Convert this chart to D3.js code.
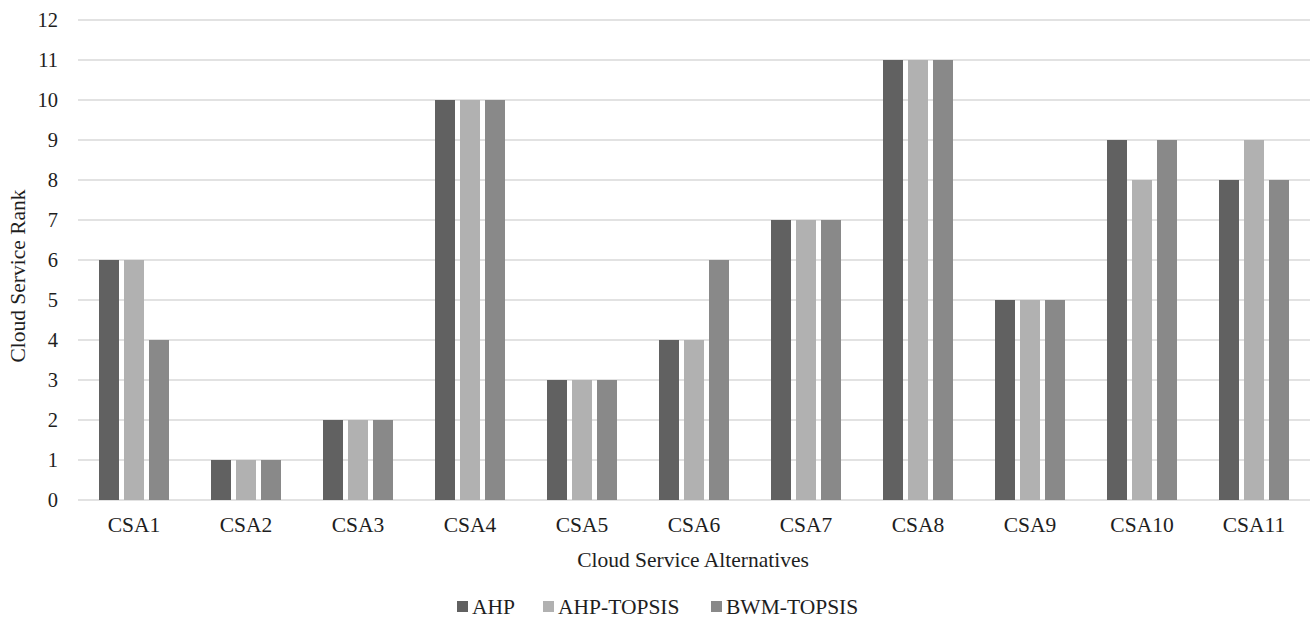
<!DOCTYPE html>
<html>
<head>
<meta charset="utf-8">
<script src="https://cdn.jsdelivr.net/npm/d3@7"></script>
<style>
  html, body { margin: 0; padding: 0; background: #fff; }
  svg { display: block; }
  svg text { font-family: "Liberation Serif", "Times New Roman", Times, serif !important; fill: #1e1e1e; }
</style>
</head>
<body>
<svg id="chart" width="1312" height="623"></svg>
<script>
// Ranks of the cloud service alternatives under each method
const categories = ["CSA1", "CSA2", "CSA3", "CSA4", "CSA5", "CSA6", "CSA7", "CSA8", "CSA9", "CSA10", "CSA11"];
const seriesNames = ["AHP", "AHP-TOPSIS", "BWM-TOPSIS"];
const ahp        = [6, 1, 2, 10, 3, 4, 7, 11, 5, 9, 8];
const ahpTopsis  = [6, 1, 2, 10, 3, 4, 7, 11, 5, 8, 9];
const bwmTopsis  = [4, 1, 2, 10, 3, 6, 7, 11, 5, 9, 8];
const yTicks = [0, 1, 2, 3, 4, 5, 6, 7, 8, 9, 10, 11, 12];
const colors = ["#616161", "#b1b1b1", "#898989"];

const seriesValues = [ahp, ahpTopsis, bwmTopsis];
const rows = categories.map((c, i) => ({
  cat: c,
  vals: seriesNames.map((s, j) => ({ key: s, value: seriesValues[j][i] }))
}));

const svg = d3.select("#chart");
const plot = { left: 78, right: 1310, top: 20, bottom: 500 };

const x = d3.scaleBand().domain(categories).range([plot.left, plot.right]).paddingInner(0).paddingOuter(0);
const bandPad = (x.bandwidth() - 70) / 2;
const xs = d3.scaleBand().domain(seriesNames)
  .range([bandPad, x.bandwidth() - bandPad]).paddingInner(0.2).paddingOuter(0);
const y = d3.scaleLinear().domain([0, 12]).range([plot.bottom, plot.top]);

// Horizontal gridlines
svg.append("g")
  .selectAll("line")
  .data(yTicks)
  .join("line")
  .attr("x1", plot.left).attr("x2", plot.right)
  .attr("y1", d => y(d)).attr("y2", d => y(d))
  .attr("stroke", "#d9d9d9").attr("stroke-width", 1.3);

// Y tick labels
const yAxis = svg.append("g")
  .attr("transform", `translate(${plot.left},0)`)
  .call(d3.axisLeft(y).tickValues(yTicks).tickSize(0).tickPadding(20).tickFormat(d3.format("d")));
yAxis.select(".domain").remove();
yAxis.selectAll("text").attr("font-size", 20.5);

// Bars
const groups = svg.append("g")
  .selectAll("g")
  .data(rows)
  .join("g")
  .attr("transform", d => `translate(${x(d.cat)},0)`);

groups.selectAll("rect")
  .data(d => d.vals)
  .join("rect")
  .attr("x", d => xs(d.key))
  .attr("width", xs.bandwidth())
  .attr("y", d => y(d.value))
  .attr("height", d => y(0) - y(d.value))
  .attr("fill", (d, i) => colors[i]);

// X axis category labels
const xAxis = svg.append("g")
  .attr("transform", `translate(0,${plot.bottom})`)
  .call(d3.axisBottom(x).tickSize(0).tickPadding(17));
xAxis.select(".domain").remove();
xAxis.selectAll("text").attr("font-size", 21.5);

// Axis titles
svg.append("text")
  .attr("x", (plot.left + plot.right) / 2 - 1)
  .attr("y", 567)
  .attr("text-anchor", "middle")
  .attr("font-size", 21.5)
  .text("Cloud Service Alternatives");

svg.append("text")
  .attr("transform", `translate(25,276) rotate(-90)`)
  .attr("text-anchor", "middle")
  .attr("font-size", 21.5)
  .text("Cloud Service Rank");

// Legend
const legendX = [457, 543, 711];
const legend = svg.append("g")
  .selectAll("g")
  .data(seriesNames)
  .join("g")
  .attr("transform", (d, i) => `translate(${legendX[i]},601)`);
legend.append("rect")
  .attr("width", 11).attr("height", 11)
  .attr("fill", (d, i) => colors[i]);
legend.append("text")
  .attr("x", 15).attr("y", 13)
  .attr("font-size", 21.5)
  .text(d => d);
</script>
</body>
</html>
